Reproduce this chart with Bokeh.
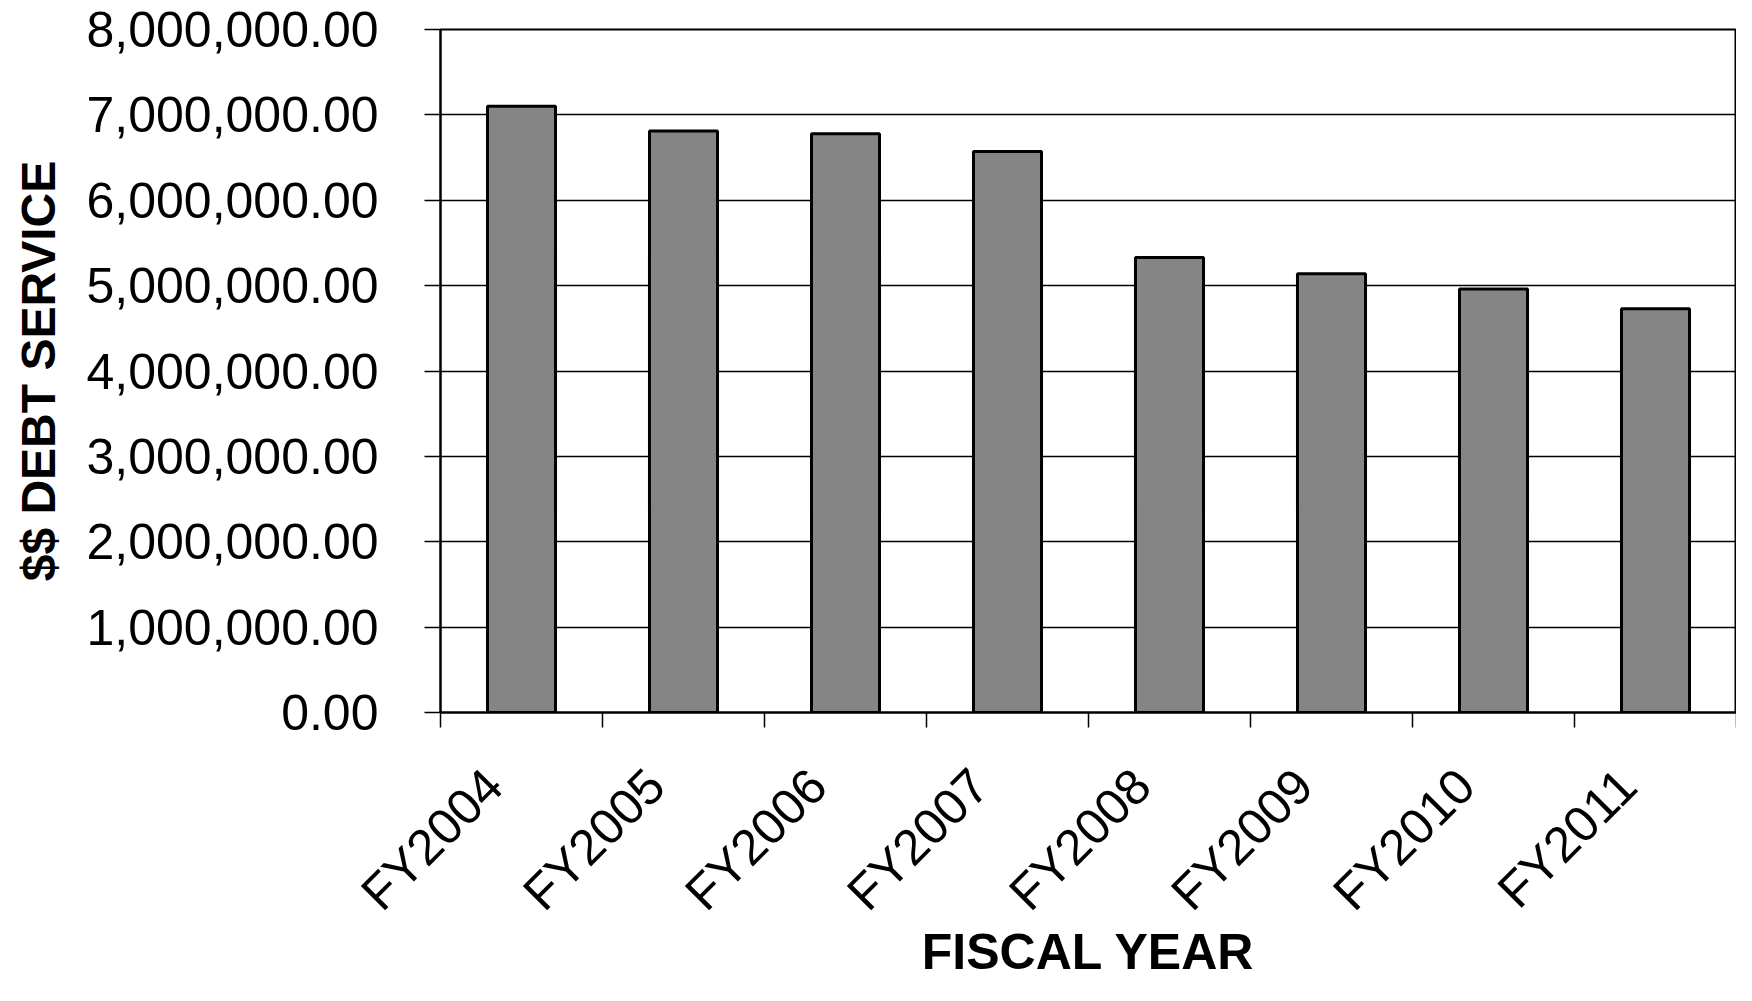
from bokeh.plotting import figure
from bokeh.models import Range1d, FixedTicker, NumeralTickFormatter, ColumnDataSource, LinearAxis
from bokeh.embed import file_html
from bokeh.resources import INLINE
import math

# ---- data ----
years = ["FY2004", "FY2005", "FY2006", "FY2007", "FY2008", "FY2009", "FY2010", "FY2011"]
debt_service = [7100000, 6810000, 6780000, 6570000, 5330000, 5140000, 4960000, 4730000]
y_ticks = [0, 1000000, 2000000, 3000000, 4000000, 5000000, 6000000, 7000000, 8000000]

n = len(years)
centers = [i + 0.5 for i in range(n)]
bounds = [float(i) for i in range(n + 1)]
# rotated labels end slightly left of the category centre
label_pos = [round(c - 0.17, 2) for c in centers]

src = ColumnDataSource(dict(x=centers, top=debt_service, year=years))

p = figure(width=1736, height=985, output_backend="svg", toolbar_location=None,
           x_range=Range1d(0, n), y_range=Range1d(0, 8000000),
           x_axis_location=None,
           min_border_left=440, min_border_right=0, min_border_top=29, min_border_bottom=273)

p.vbar(x="x", top="top", bottom=0, width=0.42, source=src,
       fill_color="#858585", line_color="black", line_width=3)

FONT = "Liberation Sans"

# y axis
ya = p.yaxis[0]
ya.ticker = FixedTicker(ticks=y_ticks)
ya.formatter = NumeralTickFormatter(format="0,0.00")
ya.major_label_text_font = FONT
ya.major_label_text_font_size = "50px"
ya.major_label_text_color = "black"
ya.major_tick_out = 16
ya.major_tick_in = 0
ya.major_tick_line_width = 1.5
ya.major_tick_line_color = "black"
ya.minor_tick_line_color = None
ya.axis_line_width = 2
ya.axis_line_color = "black"
ya.major_label_standoff = 46
ya.axis_label = "$$ DEBT SERVICE"
ya.axis_label_text_font = FONT
ya.axis_label_text_font_style = "bold"
ya.axis_label_text_font_size = "48px"
ya.axis_label_text_color = "black"
ya.axis_label_standoff = 19

# x axis
xa = LinearAxis(ticker=FixedTicker(ticks=label_pos, minor_ticks=bounds))
xa.major_label_overrides = {c: y for c, y in zip(label_pos, years)}
xa.major_label_orientation = math.pi / 4
xa.major_label_text_font = FONT
xa.major_label_text_font_size = "50px"
xa.major_label_text_color = "black"
xa.major_tick_out = 0
xa.major_tick_in = 0
xa.major_tick_line_color = None
xa.minor_tick_out = 15
xa.minor_tick_in = 0
xa.minor_tick_line_width = 1.5
xa.minor_tick_line_color = "black"
xa.axis_line_width = 2
xa.axis_line_color = "black"
xa.major_label_standoff = 50
xa.axis_label = "FISCAL YEAR"
xa.axis_label_text_font = FONT
xa.axis_label_text_font_style = "bold"
xa.axis_label_text_font_size = "50px"
xa.axis_label_text_color = "black"
xa.axis_label_standoff = -20
p.add_layout(xa, "below")

# grid
p.xgrid.grid_line_color = None
p.ygrid.ticker = FixedTicker(ticks=y_ticks)
p.ygrid.grid_line_color = "black"
p.ygrid.grid_line_width = 1.5

p.outline_line_color = "black"
p.outline_line_width = 2
p.background_fill_color = "white"
p.border_fill_color = "white"

open("out.html", "w").write(file_html(p, INLINE))
